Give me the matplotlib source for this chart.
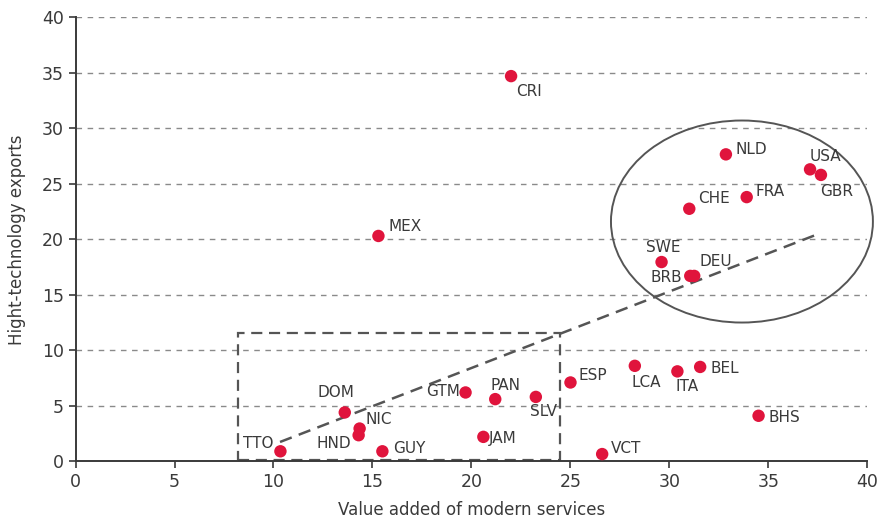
import matplotlib
matplotlib.use("Agg")
import matplotlib.pyplot as plt
from matplotlib.patches import Ellipse, Rectangle
from matplotlib import font_manager

# --- data ---
countries = ["CRI", "MEX", "NLD", "USA", "GBR", "CHE", "FRA", "SWE", "BRB", "DEU",
             "ESP", "LCA", "ITA", "BEL", "BHS", "VCT", "GTM", "PAN", "SLV", "JAM",
             "DOM", "NIC", "HND", "GUY", "TTO"]
services = [22.0, 15.3, 32.85, 37.1, 37.65, 31.0, 33.9, 29.6, 31.05, 31.25,
            25.0, 28.25, 30.4, 31.55, 34.5, 26.6, 19.7, 21.2, 23.25, 20.6,
            13.6, 14.35, 14.3, 15.5, 10.35]
hightech = [34.7, 20.3, 27.65, 26.3, 25.8, 22.75, 23.8, 17.95, 16.7, 16.7,
            7.1, 8.6, 8.1, 8.5, 4.1, 0.65, 6.2, 5.6, 5.8, 2.2,
            4.4, 2.95, 2.35, 0.9, 0.9]

# label placement (pixel offsets, horizontal alignment)
label_pos = {
    "CRI": (5, -15, "left"), "MEX": (10, 9, "left"), "NLD": (10, 5, "left"),
    "USA": (0, 13, "left"), "GBR": (-1, -17, "left"), "CHE": (9, 10, "left"),
    "FRA": (9, 6, "left"), "SWE": (2, 15, "center"), "BRB": (-8, -2, "right"),
    "DEU": (5, 14, "left"), "ESP": (8, 7, "left"), "LCA": (-3, -17, "left"),
    "ITA": (-2, -15, "left"), "BEL": (10, -2, "left"), "BHS": (10, -2, "left"),
    "VCT": (9, 6, "left"), "GTM": (-6, 1, "right"), "PAN": (-5, 14, "left"),
    "SLV": (-6, -15, "left"), "JAM": (5, -2, "left"), "DOM": (-9, 20, "center"),
    "NIC": (6, 9, "left"), "HND": (-8, -8, "right"), "GUY": (11, 3, "left"),
    "TTO": (-7, 8, "right"),
}

trend_x = [10.33, 37.52]
trend_y = [1.74, 20.48]

box_x, box_y, box_w, box_h = 8.19, 0.15, 16.28, 11.38
ell_xy, ell_w, ell_h = (33.66, 21.6), 13.23, 18.2

x_ticks = [0, 5, 10, 15, 20, 25, 30, 35, 40]
y_ticks = [0, 5, 10, 15, 20, 25, 30, 35, 40]

names = {f.name for f in font_manager.fontManager.ttflist}
fam = ["Liberation Sans Narrow", "DejaVu Sans"] if "Liberation Sans Narrow" in names \
    else ["DejaVu Sans Condensed", "DejaVu Sans"]
plt.rcParams["font.family"] = fam

TXT = "#3a3a3a"
RED = "#e0143c"

fig = plt.figure(figsize=(8.78, 5.19), dpi=100)
ax = fig.add_axes([0.086, 0.1112, 0.902, 0.8555])

for yv in y_ticks[1:]:
    ax.axhline(yv, color="#8a8a8a", lw=1.0, ls=(0, (4, 4)), zorder=1)

ax.add_patch(Rectangle((box_x, box_y), box_w, box_h, fill=False,
                       ec="#555555", lw=1.6, ls=(0, (5, 3)), zorder=2))
ax.add_patch(Ellipse(ell_xy, ell_w, ell_h, fill=False, ec="#555555",
                     lw=1.4, zorder=2, clip_on=False))
ax.plot(trend_x, trend_y, color="#555555", lw=1.8, ls=(0, (5, 3)), zorder=2)

ax.scatter(services, hightech, s=80, color=RED, edgecolors="none", zorder=4)

for c, xv, yv in zip(countries, services, hightech):
    dx, dy, ha = label_pos[c]
    ax.annotate(c, (xv, yv), xytext=(dx, dy), textcoords="offset pixels",
                ha=ha, va="center", fontsize=11, color=TXT, zorder=5)

ax.set_xlim(0, 40)
ax.set_ylim(0, 40)
ax.set_xticks(x_ticks)
ax.set_yticks(y_ticks)
ax.tick_params(labelsize=12.5, colors=TXT, length=5, width=1.2)
for side in ("top", "right"):
    ax.spines[side].set_visible(False)
for side in ("left", "bottom"):
    ax.spines[side].set_color(TXT)
    ax.spines[side].set_linewidth(1.4)

ax.set_xlabel("Value added of modern services", fontsize=12, color=TXT, labelpad=7)
ax.set_ylabel("Hight-technology exports", fontsize=12, color=TXT, labelpad=11)

fig.savefig("out.png", dpi=100, facecolor="white")
